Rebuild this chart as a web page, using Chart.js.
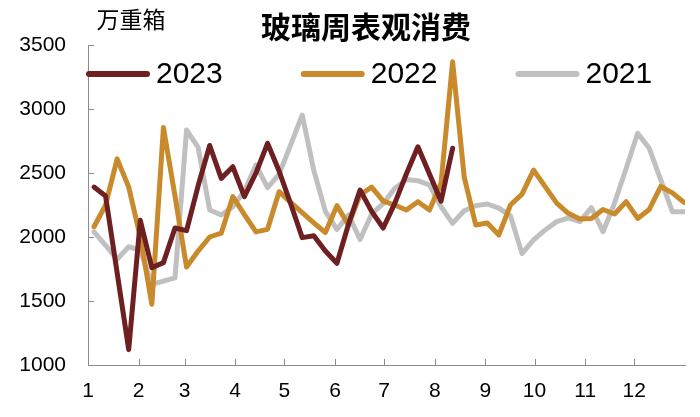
<!DOCTYPE html>
<html><head><meta charset="utf-8">
<script src="https://cdn.jsdelivr.net/npm/chart.js@4.4.0/dist/chart.umd.min.js"></script>
<style>html,body{margin:0;padding:0;background:#fff;}#wrap{width:700px;height:417px;}</style>
</head><body><div id="wrap"><canvas id="c" width="700" height="417"></canvas></div>
<script>
const titleText = '玻璃周表观消费';
const unitText = '万重箱';
const seriesNames = ['2023', '2022', '2021'];
const weeks = [1,2,3,4,5,6,7,8,9,10,11,12,13,14,15,16,17,18,19,20,21,22,23,24,25,26,27,28,29,30,31,32,33,34,35,36,37,38,39,40,41,42,43,44,45,46,47,48,49,50,51,52];
const monthLabels = ['1','2','3','4','5','6','7','8','9','10','11','12'];
const monthDays = [31,28,31,30,31,30,31,31,30,31,30,31];
const yTickValues = [1000,1500,2000,2500,3000,3500];
const s2023 = [2390,2320,1720,1120,2130,1760,1800,2070,2050,2400,2715,2458,2549,2315,2500,2732,2515,2260,1995,2010,1890,1795,2100,2367,2200,2070,2263,2492,2705,2492,2280,2693];
const s2022 = [2080,2250,2610,2390,2000,1475,2855,2320,1765,1890,2000,2030,2315,2175,2040,2060,2354,2270,2190,2110,2035,2245,2094,2330,2390,2280,2250,2211,2276,2211,2420,3370,2470,2094,2110,2016,2250,2335,2523,2393,2265,2185,2140,2145,2215,2180,2276,2145,2215,2395,2345,2270];
const s2021 = [2040,1935,1825,1924,1898,1630,1655,1680,2836,2700,2211,2172,2237,2360,2563,2385,2490,2720,2953,2520,2200,2060,2172,1980,2180,2260,2380,2450,2440,2406,2237,2107,2205,2245,2258,2225,2165,1870,1977,2055,2120,2150,2120,2230,2041,2265,2535,2810,2693,2445,2198,2198];

const colors = ['#6E1F21', '#C98A2C', '#C0C0C0'];
const axisColor = '#8c8c8c';
const X_MIN = 0.48, X_MAX = 52.09;
// month start positions derived from calendar days across the axis span
const monthTickPos = [];
{ let cum = 0; for (let m = 0; m < 12; m++) { monthTickPos.push(X_MIN + cum / 365 * (X_MAX - X_MIN)); cum += monthDays[m]; } }

function toPoints(arr) { return arr.map((v, i) => ({ x: weeks[i], y: v })); }

const decor = {
  id: 'decor',
  afterDraw(chart) {
    const { ctx, chartArea: { left, right, top, bottom }, scales: { x, y } } = chart;
    ctx.save();
    ctx.strokeStyle = axisColor; ctx.lineWidth = 1;
    x.ticks.forEach(t => {
      const px = Math.round(x.getPixelForValue(t.value)) + 0.5;
      ctx.beginPath(); ctx.moveTo(px, bottom); ctx.lineTo(px, bottom - 6); ctx.stroke();
    });
    y.ticks.forEach(t => {
      const py = Math.round(y.getPixelForValue(t.value)) + 0.5;
      ctx.beginPath(); ctx.moveTo(left, py); ctx.lineTo(left + 6, py); ctx.stroke();
    });
    // title and unit
    ctx.fillStyle = '#000'; ctx.textAlign = 'center'; ctx.textBaseline = 'middle';
    ctx.font = 'bold 30px "Noto Sans CJK SC"';
    ctx.fillText(titleText, 366, 27);
    ctx.font = '23px "Noto Sans CJK SC"';
    ctx.fillText(unitText, 131, 19);
    // legend
    ctx.font = '30px "Liberation Sans", Arial, sans-serif';
    ctx.textAlign = 'left';
    let lx = 86; const ly = 74;
    chart.data.datasets.forEach(ds => {
      ctx.strokeStyle = ds.borderColor; ctx.lineWidth = 6; ctx.lineCap = 'round';
      ctx.beginPath(); ctx.moveTo(lx + 3, ly); ctx.lineTo(lx + 61, ly); ctx.stroke();
      ctx.fillStyle = '#000';
      ctx.fillText(ds.label, lx + 70, ly + 1);
      const tw = ctx.measureText(ds.label).width;
      lx = lx + 70 + tw + 78;
    });
    ctx.restore();
  }
};

const mk = (i, arr) => ({
  label: seriesNames[i], data: toPoints(arr), borderColor: colors[i], backgroundColor: colors[i],
  borderWidth: 5, pointRadius: 0, tension: 0, borderJoinStyle: 'round', borderCapStyle: 'round', fill: false
});

new Chart(document.getElementById('c'), {
  type: 'line',
  data: { datasets: [mk(0, s2023), mk(1, s2022), mk(2, s2021)] },
  options: {
    responsive: false, animation: false, devicePixelRatio: 1,
    layout: { padding: { top: 45, right: 15, left: 0, bottom: 0 } },
    plugins: { legend: { display: false }, tooltip: { enabled: false }, title: { display: false } },
    scales: {
      x: {
        type: 'linear', min: X_MIN, max: X_MAX,
        afterBuildTicks: s => { s.ticks = monthTickPos.map(v => ({ value: v })); },
        afterFit: s => { s.height = 52; },
        ticks: { autoSkip: false, maxRotation: 0, padding: 14, color: '#000',
          font: { family: '"Liberation Sans", Arial, sans-serif', size: 21 },
          callback: (v, i) => monthLabels[i] },
        grid: { display: false, drawTicks: false },
        border: { display: true, color: axisColor, width: 1 }
      },
      y: {
        min: 1000, max: 3500,
        afterBuildTicks: s => { s.ticks = yTickValues.map(v => ({ value: v })); },
        afterFit: s => { s.width = 88; },
        ticks: { padding: 22, color: '#000', font: { family: '"Liberation Sans", Arial, sans-serif', size: 21 },
          callback: v => String(v) },
        grid: { display: false, drawTicks: false },
        border: { display: true, color: axisColor, width: 1 }
      }
    }
  },
  plugins: [decor]
});
</script></body></html>
